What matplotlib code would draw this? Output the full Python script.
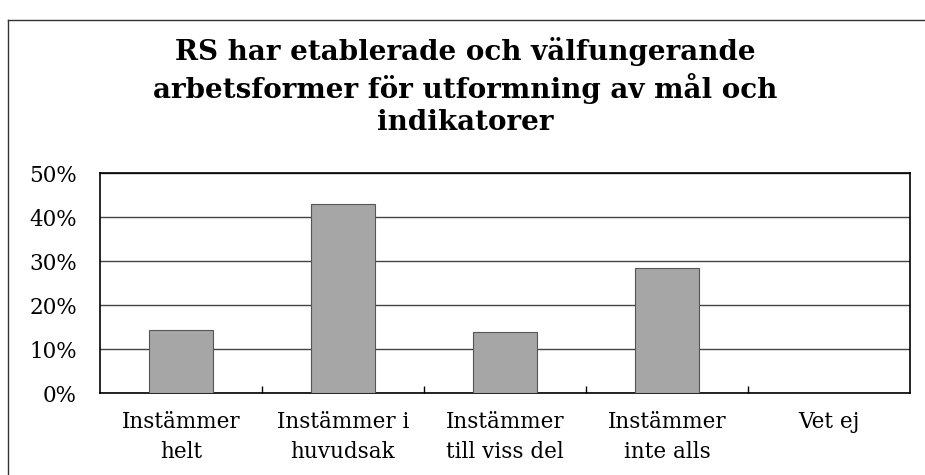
import matplotlib
matplotlib.use("Agg")
import matplotlib.pyplot as plt
from matplotlib.lines import Line2D
from matplotlib.ticker import FuncFormatter, FixedLocator

categories = ["Instämmer\nhelt", "Instämmer i\nhuvudsak", "Instämmer\ntill viss del",
              "Instämmer\ninte alls", "Vet ej"]
values = [14.3, 42.9, 13.9, 28.4, 0.0]
yticks = [0, 10, 20, 30, 40, 50]
title = "RS har etablerade och välfungerande\narbetsformer för utformning av mål och\nindikatorer"

plt.rcParams['font.family'] = ['DejaVu Serif']

fig = plt.figure(figsize=(9.25, 4.75), dpi=100)
ax = fig.add_axes([100/925, 82/475, 810/925, 220/475])

x = list(range(len(categories)))
ax.bar(x, values, width=0.4, color="#a6a6a6", edgecolor="#555555", linewidth=0.8, zorder=3)

ax.set_xlim(-0.5, len(categories) - 0.5)
ax.set_ylim(0, 50)
ax.yaxis.set_major_locator(FixedLocator(yticks))
ax.yaxis.set_major_formatter(FuncFormatter(lambda v, p: f"{int(v)}%"))
ax.grid(axis="y", color="#444444", linewidth=1.0, zorder=0)
ax.tick_params(axis="y", length=0, pad=16.5, labelsize=15.5)

ax.set_xticks(x)
ax.set_xticklabels(categories, fontsize=15.5, linespacing=1.45)
ax.tick_params(axis="x", which="major", length=0, pad=13)
ax.set_xticks([i + 0.5 for i in range(len(categories) - 1)], minor=True)
ax.tick_params(axis="x", which="minor", direction="in", length=5, width=1, color="black")

for s in ax.spines.values():
    s.set_color("black")
    s.set_linewidth(1.2)

fig.text(0.503, 0.818, title, ha="center", va="center", fontsize=20,
         fontweight="bold", linespacing=1.28)

# outer chart frame
fig.add_artist(Line2D([8/925, 1.0], [1 - 20/475, 1 - 20/475], transform=fig.transFigure,
                      color="#333333", linewidth=1.0))
fig.add_artist(Line2D([8/925, 8/925], [0.0, 1 - 20/475], transform=fig.transFigure,
                      color="#333333", linewidth=1.0))

fig.savefig("out.png", dpi=100)
